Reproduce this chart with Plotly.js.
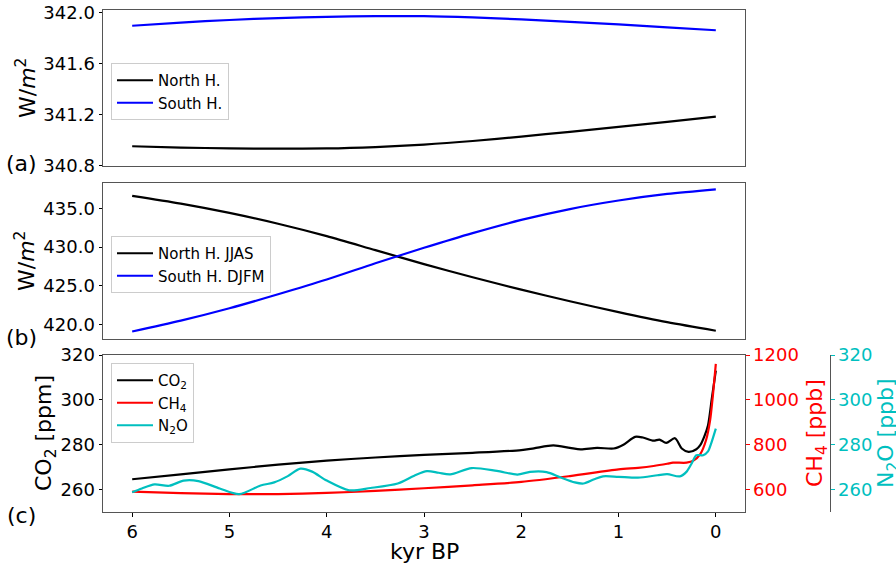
<!DOCTYPE html>
<html>
<head>
<meta charset="utf-8">
<script src="https://cdn.plot.ly/plotly-3.0.1.min.js"></script>
<style>html,body{margin:0;padding:0;background:#fff;}#chart{width:896px;height:568px;}</style>
</head>
<body>
<div id="chart"></div>
<script>
// ---- Data ----
const kyrInsol = [6, 5.5, 5, 4.5, 4, 3.5, 3, 2.5, 2, 1.5, 1, 0.5, 0];
const northAnnual = [340.954, 340.944, 340.938, 340.935, 340.937, 340.948, 340.967, 340.995, 341.030, 341.067, 341.105, 341.145, 341.186];
const southAnnual = [341.895, 341.920, 341.940, 341.955, 341.965, 341.970, 341.970, 341.960, 341.945, 341.925, 341.905, 341.883, 341.860];
const northJJAS = [436.6, 435.6, 434.4, 433.0, 431.4, 429.6, 427.8, 426.1, 424.5, 423.0, 421.6, 420.3, 419.2];
const southDJFM = [419.1, 420.5, 422.1, 423.9, 425.8, 427.9, 429.9, 431.8, 433.5, 434.9, 436.0, 436.85, 437.45];

const kyrCO2 = [6, 5.5, 5, 4.5, 4, 3.5, 3, 2.5, 2, 1.87, 1.67, 1.5, 1.39, 1.22, 1.05, 0.95, 0.83, 0.75, 0.64, 0.58, 0.51, 0.42, 0.35, 0.28, 0.2, 0.16, 0.12, 0.08, 0.04, 0];
const co2 = [264.6, 266.8, 269.0, 271.1, 272.9, 274.3, 275.5, 276.4, 277.6, 278.4, 279.7, 278.6, 277.9, 278.6, 278.3, 280.0, 283.5, 283.2, 281.8, 282.3, 280.8, 282.9, 278.3, 276.8, 278.0, 279.8, 283.5, 288.7, 301.0, 313.0];

const kyrCH4 = [6, 5.5, 5, 4.5, 4, 3.5, 3, 2.5, 2, 1.5, 1, 0.8, 0.64, 0.5, 0.44, 0.3, 0.23, 0.16, 0.1, 0.06, 0.03, 0];
const ch4 = [591, 584, 580, 580, 585, 594, 606, 619, 634, 660, 690, 697, 705, 715, 720, 720, 729, 758, 821, 905, 1020, 1160];

const kyrN2O = [6, 5.9, 5.77, 5.62, 5.47, 5.32, 5.1, 4.9, 4.68, 4.54, 4.4, 4.27, 4.15, 4.0, 3.77, 3.55, 3.27, 3.1, 2.97, 2.85, 2.73, 2.51, 2.25, 2.04, 1.91, 1.74, 1.6, 1.45, 1.36, 1.25, 1.16, 1.0, 0.8, 0.6, 0.5, 0.37, 0.3, 0.25, 0.2, 0.13, 0.08, 0.05, 0];
const n2o = [258.8, 260.5, 262.3, 261.7, 264.0, 263.8, 260.5, 258.0, 261.8, 263.2, 266.0, 269.3, 268.0, 264.0, 259.7, 260.7, 262.7, 266.2, 268.2, 267.5, 266.8, 269.6, 268.3, 266.7, 267.9, 267.8, 265.5, 263.2, 262.7, 264.6, 265.9, 265.7, 265.3, 266.4, 266.9, 265.9, 268.0, 271.5, 275.3, 275.3, 277.0, 280.3, 287.2];

const xTicks = [6, 5, 4, 3, 2, 1, 0];

// ---- Layout helpers (pixel -> paper) ----
const W = 896, H = 568;
const M = {l: 103, r: 10, t: 10, b: 56};
const PW = W - M.l - M.r, PH = H - M.t - M.b;
const px = x => (x - M.l) / PW;
const py = y => (H - M.b - y) / PH;

const FONT = 'DejaVu Sans, sans-serif';
const CYAN = '#00bfbf';
const lw = 2.2;

function tr(x, y, name, color, xa, ya, leg) {
  return {x: x, y: y, name: name, type: 'scatter', mode: 'lines',
    line: {color: color, width: lw, shape: 'spline', smoothing: 0.8},
    xaxis: xa, yaxis: ya, legend: leg, hoverinfo: 'skip'};
}

const data = [
  tr(kyrInsol, northAnnual, 'North H.', '#000000', 'x', 'y', 'legend'),
  tr(kyrInsol, southAnnual, 'South H.', '#0000ff', 'x', 'y', 'legend'),
  tr(kyrInsol, northJJAS, 'North H. JJAS', '#000000', 'x2', 'y2', 'legend2'),
  tr(kyrInsol, southDJFM, 'South H. DJFM', '#0000ff', 'x2', 'y2', 'legend2'),
  tr(kyrCO2, co2, 'CO<sub>2</sub>', '#000000', 'x3', 'y3', 'legend3'),
  tr(kyrCH4, ch4, 'CH<sub>4</sub>', '#ff0000', 'x3', 'y4', 'legend3'),
  tr(kyrN2O, n2o, 'N<sub>2</sub>O', CYAN, 'x3', 'y5', 'legend3')
];

const xdom = [0, px(745)];
const frame = {showline: true, linecolor: '#555', linewidth: 1, mirror: true, showgrid: false, zeroline: false};
function xax(anchor, showLabels) {
  return Object.assign({}, frame, {domain: xdom, anchor: anchor, range: [6.3, -0.3], tickvals: xTicks,
    ticks: showLabels ? 'outside' : '', ticklen: 3.5, tickcolor: '#000', showticklabels: showLabels,
    tickfont: {family: FONT, size: 18, color: '#000'}});
}
function yax(dom, range, tickvals, fmt, anchor) {
  return Object.assign({}, frame, {domain: dom, anchor: anchor, range: range, tickvals: tickvals,
    tickformat: fmt, ticks: 'outside', ticklen: 3.5, tickcolor: '#000',
    tickfont: {family: FONT, size: 18, color: '#000'}});
}

const legBase = {bgcolor: 'rgba(255,255,255,0.85)', bordercolor: '#cccccc', borderwidth: 1,
  font: {family: FONT, size: 15, color: '#000'}, xanchor: 'left', yanchor: 'top', xref: 'paper', yref: 'paper',
  itemwidth: 36, tracegroupgap: 0};

const layout = {
  width: W, height: H, margin: M, paper_bgcolor: '#fff', plot_bgcolor: '#fff',
  font: {family: FONT, color: '#000'},
  xaxis: xax('y', false),
  xaxis2: xax('y2', false),
  xaxis3: xax('y3', true),
  yaxis: yax([py(166), 1], [340.7999, 342.018], [340.8, 341.2, 341.6, 342.0], '.1f', 'x'),
  yaxis2: yax([py(339), py(182.7)], [418.13, 438.3], [420, 425, 430, 435], '.1f', 'x2'),
  yaxis3: yax([0, py(355)], [250, 320], [260, 280, 300, 320], 'd', 'x3'),
  yaxis4: {overlaying: 'y3', side: 'right', anchor: 'x3', range: [500, 1200], tickvals: [600, 800, 1000, 1200],
    showline: false, showgrid: false, zeroline: false, ticks: 'outside', ticklen: 3.5, tickcolor: '#ff0000',
    tickfont: {family: FONT, size: 18, color: '#ff0000'}},
  yaxis5: {overlaying: 'y3', side: 'right', anchor: 'free', position: px(830), range: [250, 320], tickvals: [260, 280, 300, 320],
    showline: true, linecolor: '#555', linewidth: 1, showgrid: false, zeroline: false, ticks: 'outside', ticklen: 3.5, tickcolor: CYAN,
    tickfont: {family: FONT, size: 18, color: CYAN}},
  legend: Object.assign({}, legBase, {x: px(111), y: py(63)}),
  legend2: Object.assign({}, legBase, {x: px(111), y: py(236)}),
  legend3: Object.assign({}, legBase, {x: px(111), y: py(363)}),
  showlegend: true,
  annotations: [
    {text: 'W/<i>m</i><sup>2</sup>', x: px(26), y: py(88), textangle: -90},
    {text: 'W/<i>m</i><sup>2</sup>', x: px(25), y: py(261), textangle: -90},
    {text: 'CO<sub>2</sub> [ppm]', x: px(45), y: py(433), textangle: -90},
    {text: 'CH<sub>4</sub> [ppb]', x: px(816), y: py(433), textangle: -90, font: {color: '#ff0000'}},
    {text: 'N<sub>2</sub>O [ppb]', x: px(887), y: py(433), textangle: -90, font: {color: CYAN}},
    {text: 'kyr BP', x: px(424), y: py(551)},
    {text: '(a)', x: px(21), y: py(164)},
    {text: '(b)', x: px(21), y: py(337)},
    {text: '(c)', x: px(21), y: py(515)}
  ].map(a => Object.assign({xref: 'paper', yref: 'paper', showarrow: false, xanchor: 'center', yanchor: 'middle'}, a,
    {font: Object.assign({family: FONT, size: 22, color: '#000'}, a.font || {})}))
};

Plotly.newPlot('chart', data, layout, {staticPlot: true, displayModeBar: false});
</script>
</body>
</html>
